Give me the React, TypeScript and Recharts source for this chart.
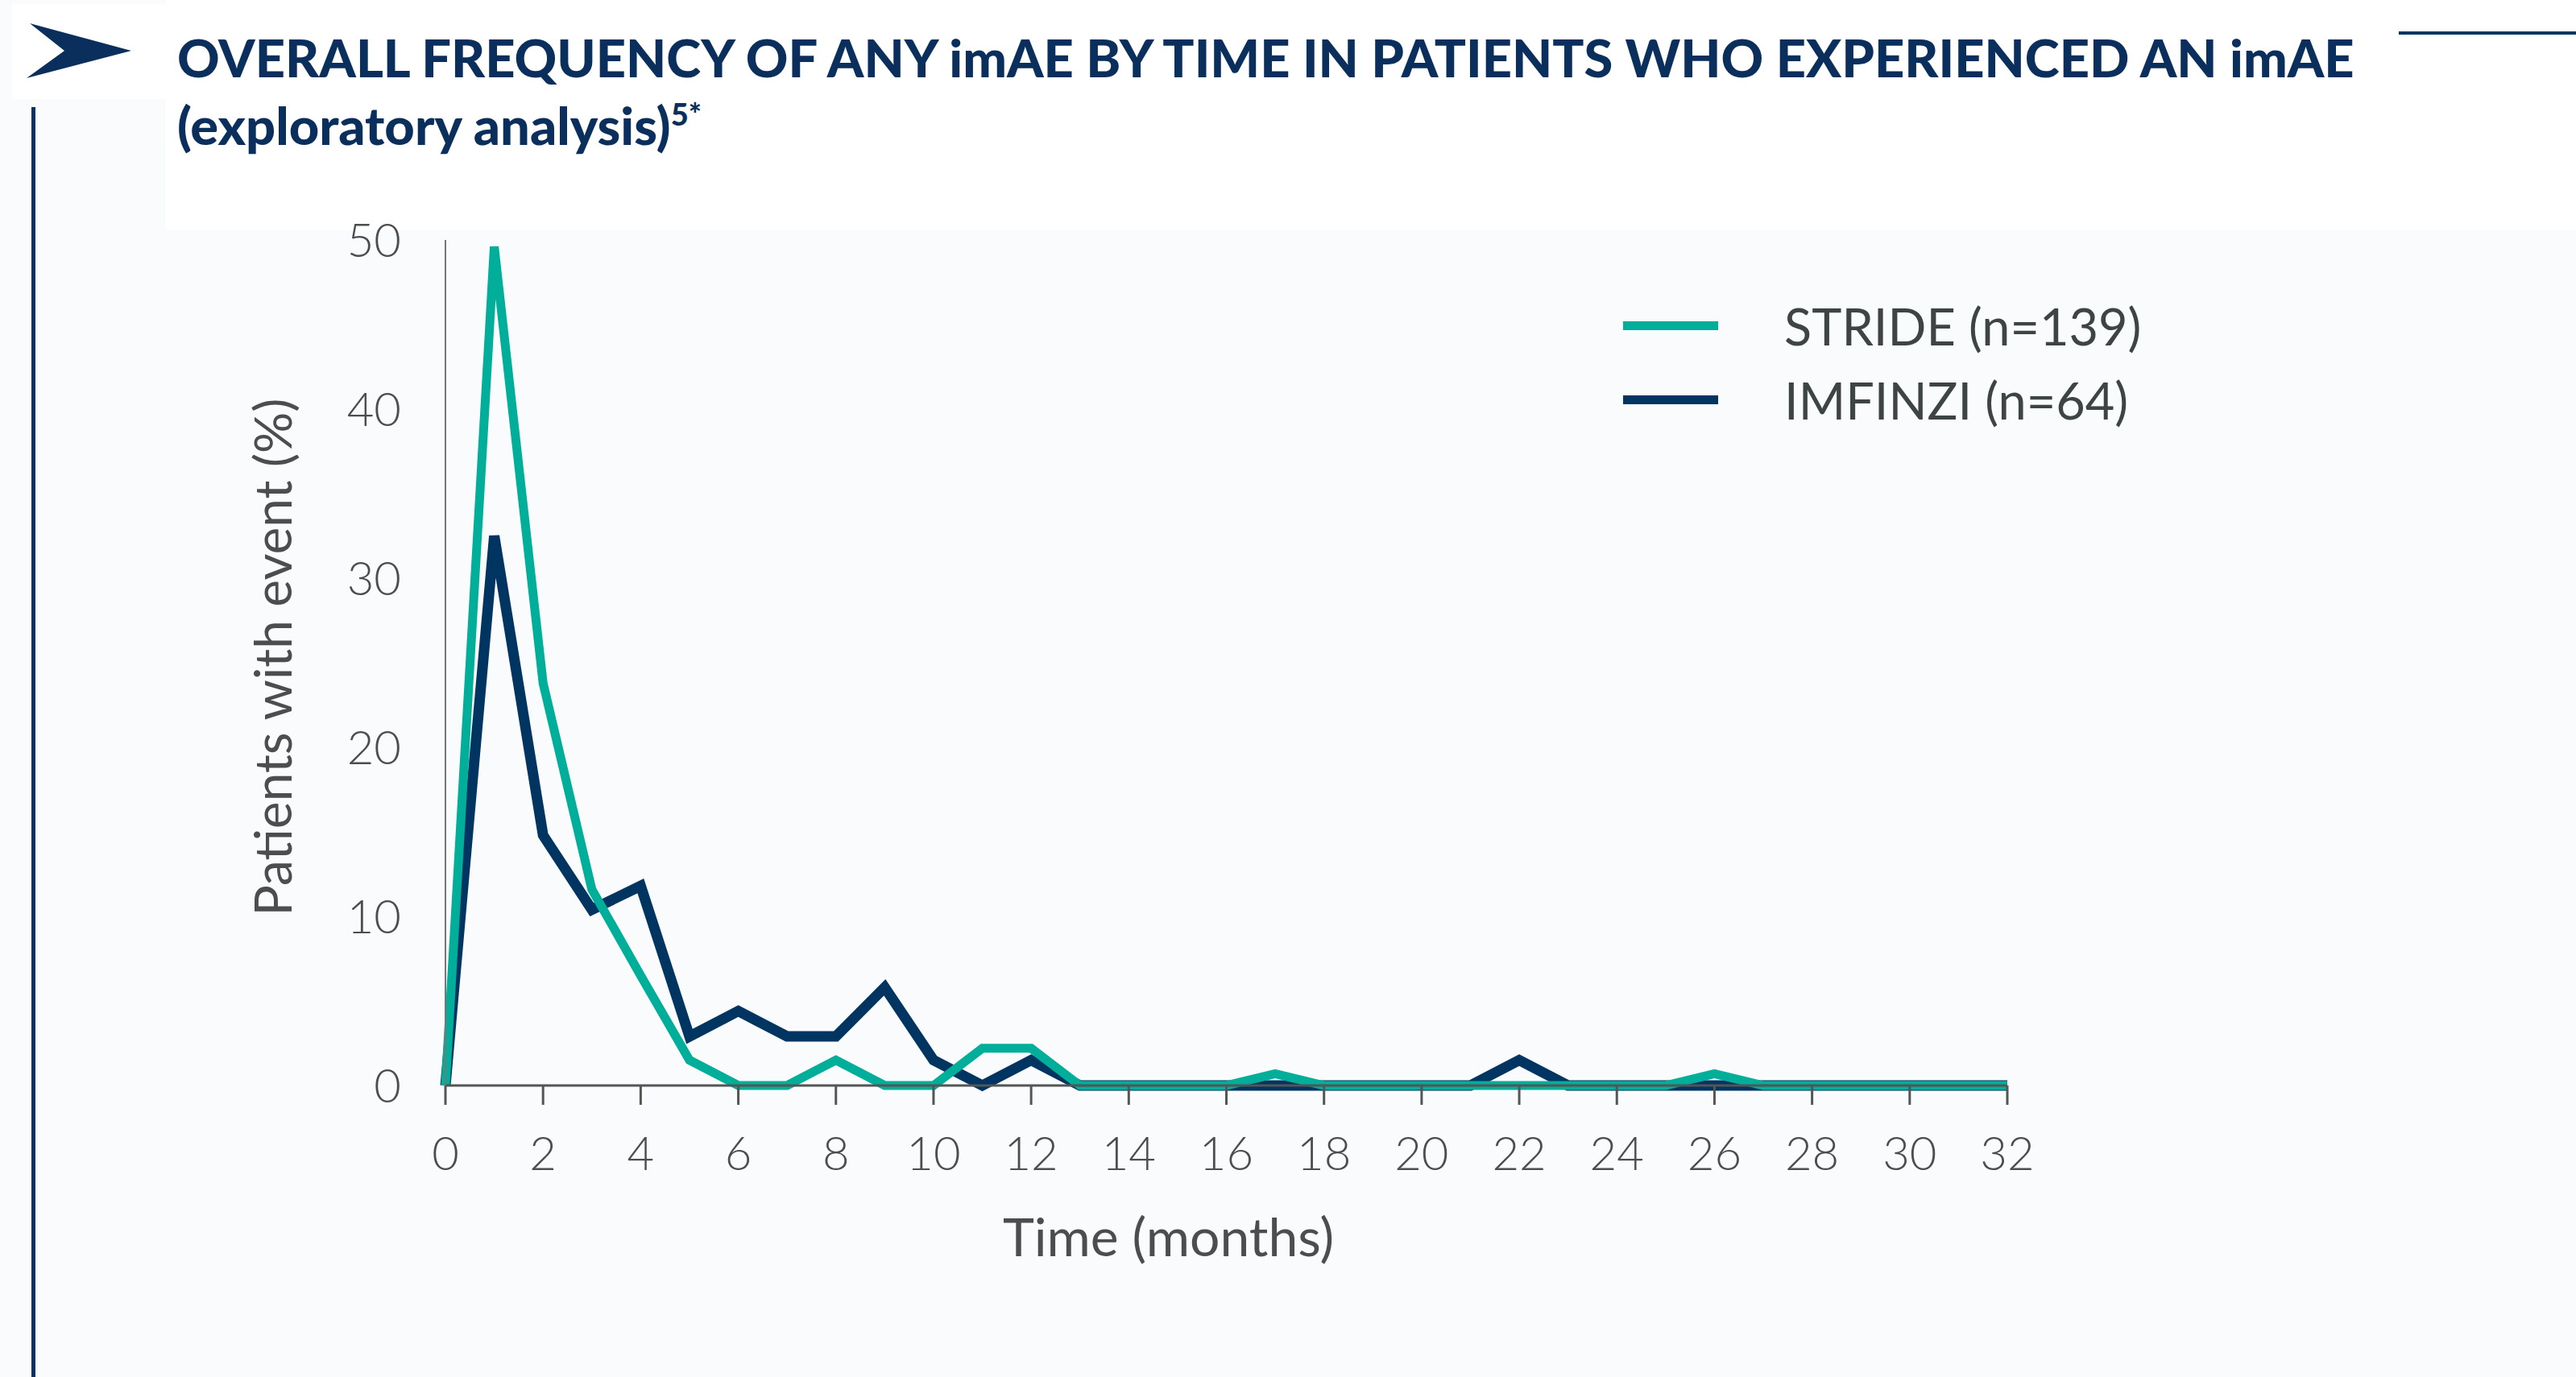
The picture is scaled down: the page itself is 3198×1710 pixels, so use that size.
import React from "react";
import { LineChart, Line, XAxis, YAxis, Legend, Label } from "recharts";

// months 0..32
const months = [0, 1, 2, 3, 4, 5, 6, 7, 8, 9, 10, 11, 12, 13, 14, 15, 16, 17, 18, 19, 20, 21, 22, 23, 24, 25, 26, 27, 28, 29, 30, 31, 32];
const strideValues = [0, 49.6, 23.8, 11.6, 6.5, 1.5, 0, 0, 1.5, 0, 0, 2.2, 2.2, 0, 0, 0, 0, 0.7, 0, 0, 0, 0, 0, 0, 0, 0, 0.7, 0, 0, 0, 0, 0, 0];
const imfinziValues = [0, 32.5, 14.8, 10.4, 11.8, 2.9, 4.4, 2.9, 2.9, 5.8, 1.5, 0, 1.5, 0, 0, 0, 0, 0, 0, 0, 0, 0, 1.5, 0, 0, 0, 0, 0, 0, 0, 0, 0, 0];
const xTicks = [0, 2, 4, 6, 8, 10, 12, 14, 16, 18, 20, 22, 24, 26, 28, 30, 32];
const yTicks = [0, 10, 20, 30, 40, 50];
const seriesNames = ["STRIDE (n=139)", "IMFINZI (n=64)"];

const titleLine1 = "OVERALL FREQUENCY OF ANY imAE BY TIME IN PATIENTS WHO EXPERIENCED AN imAE";
const titleLine2 = "(exploratory analysis)";
const titleNote = "5*";
const xTitle = "Time (months)";
const yTitle = "Patients with event (%)";

const TEAL = "#00ae9a";
const NAVY = "#003461";
const TEXT = "#4b4d4f";
const FONT = "Lato, 'Open Sans', sans-serif";

const rows = months.map((m, i) => ({ month: m, stride: strideValues[i], imfinzi: imfinziValues[i] }));
const legendItems = [
  { name: seriesNames[0], color: TEAL },
  { name: seriesNames[1], color: NAVY },
];

function LegendBox() {
  return (
    <div style={{ fontFamily: FONT }}>
      {legendItems.map((it) => (
        <div key={it.name} style={{ display: "flex", alignItems: "center", height: 92 }}>
          <div style={{ width: 118, height: 11, background: it.color, marginRight: 82 }} />
          <span style={{ fontSize: 63, color: "#3e4444", lineHeight: 1 }}>{it.name}</span>
        </div>
      ))}
    </div>
  );
}

function XTitle(props: any) {
  const vb = props.viewBox;
  return (
    <text x={vb.x + vb.width / 2 - 72} y={vb.y + 186} textAnchor="middle" dominantBaseline="central"
      fill={TEXT} fontSize={66} fontFamily={FONT}>
      {xTitle}
    </text>
  );
}

function YTitle(props: any) {
  const vb = props.viewBox;
  const x = vb.x - 16;
  const y = vb.y + vb.height / 2 - 7;
  return (
    <text x={x} y={y} transform={`rotate(-90, ${x}, ${y})`} textAnchor="middle" dominantBaseline="central"
      fill={TEXT} fontSize={64} fontFamily={FONT}>
      {yTitle}
    </text>
  );
}

export default function App() {
  return (
    <div style={{ position: "absolute", left: 0, top: 0, width: 3198, height: 1710, background: "#f9fbfd", overflow: "hidden" }}>
      <div style={{ position: "absolute", left: 15, top: 5, width: 3183, height: 118, background: "#ffffff" }} />
      <div style={{ position: "absolute", left: 205, top: 0, width: 2993, height: 286, background: "#ffffff" }} />
      <div style={{ position: "absolute", left: 39, top: 133, width: 5, height: 1577, background: NAVY }} />
      <div style={{ position: "absolute", left: 2978, top: 39, width: 220, height: 4, background: NAVY }} />
      <svg style={{ position: "absolute", left: 0, top: 0 }} width={200} height={120}>
        <polygon points="37,29 163,63 33,97 80,63" fill="#0b2f5c" />
      </svg>
      <div style={{ position: "absolute", left: 220, top: 29, fontFamily: FONT, fontWeight: 900, fontSize: 65, lineHeight: "84px", color: "#0b2f5c", whiteSpace: "nowrap" }}>
        <div>{titleLine1}</div>
        <div>
          {titleLine2}
          <span style={{ fontSize: 38, position: "relative", top: -24 }}>{titleNote}</span>
        </div>
      </div>
      <div style={{ position: "absolute", left: 0, top: 0 }}>
        <LineChart width={3198} height={1710} data={rows} margin={{ top: 298, right: 706, bottom: 162, left: 353 }}>
          <XAxis dataKey="month" type="number" domain={[0, 32]} ticks={xTicks} interval={0} height={200}
            axisLine={{ stroke: "#555555", strokeWidth: 3 }} tickLine={{ stroke: "#555555", strokeWidth: 3 }}
            tickSize={24} tickMargin={40}
            tick={{ fill: TEXT, fontSize: 58, fontFamily: FONT, fontWeight: 300 }}>
            <Label content={XTitle} />
          </XAxis>
          <YAxis type="number" domain={[0, 50]} ticks={yTicks} interval={0} width={200}
            axisLine={{ stroke: "#777777", strokeWidth: 2 }} tickLine={false} tickSize={0} tickMargin={55}
            tick={{ fill: TEXT, fontSize: 58, fontFamily: FONT, fontWeight: 300 }}>
            <Label content={YTitle} />
          </YAxis>
          <Legend layout="vertical" align="center" verticalAlign="middle" content={LegendBox}
            wrapperStyle={{ left: 2015, top: 358, width: 700 }} />
          <Line type="linear" dataKey="imfinzi" name={seriesNames[1]} stroke={NAVY} strokeWidth={13} dot={false} isAnimationActive={false} />
          <Line type="linear" dataKey="stride" name={seriesNames[0]} stroke={TEAL} strokeWidth={11} dot={false} isAnimationActive={false} />
        </LineChart>
      </div>
    </div>
  );
}
